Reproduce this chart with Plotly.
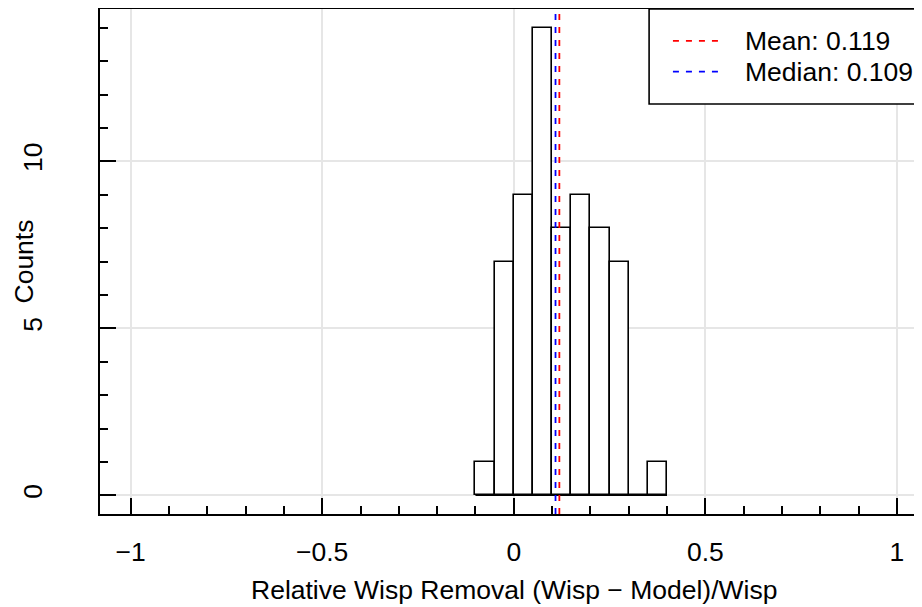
import plotly.graph_objects as go

# ---- data ----
bin_start = -0.1
bin_width = 0.05
counts = [1, 7, 9, 14, 8, 9, 8, 7, 0, 1]
mean_val = 0.119
median_val = 0.109
x_tickvals = [-1, -0.5, 0, 0.5, 1]
x_ticktext = ["\u22121", "\u22120.5", "0", "0.5", "1"]
y_tickvals = [0, 5, 10]
y_ticktext = ["0", "5", "10"]
x_title = "Relative Wisp Removal (Wisp \u2212 Model)/Wisp"
y_title = "Counts"

edges = [bin_start + i * bin_width for i in range(len(counts) + 1)]
centers = [(edges[i] + edges[i + 1]) / 2 for i in range(len(counts))]

FONT = "Liberation Sans, Arial, Helvetica, sans-serif"
FS = 26.5

fig = go.Figure()
fig.add_trace(go.Bar(
    x=centers, y=counts, width=bin_width,
    marker=dict(color="white", line=dict(color="black", width=1.6)),
    showlegend=False, hoverinfo="x+y",
))
# baseline of the histogram (covers zero-count bins)
fig.add_trace(go.Scatter(
    x=[edges[0], edges[-1]], y=[0, 0], mode="lines",
    line=dict(color="black", width=1.6), showlegend=False, hoverinfo="skip",
))

# mean / median vertical lines
fig.add_shape(type="line", xref="x", yref="y domain", x0=median_val, x1=median_val,
              y0=0, y1=1, line=dict(color="blue", width=1.8, dash="6px,7px"))
fig.add_shape(type="line", xref="x", yref="y domain", x0=mean_val, x1=mean_val,
              y0=0, y1=1, line=dict(color="red", width=1.8, dash="6px,7px"))

# legend box (manual, R-style)
fig.add_shape(type="rect", xref="paper", yref="paper", x0=0.668, x1=1.05, y0=0.812, y1=1.0,
              line=dict(color="black", width=1.6), fillcolor="white", layer="above")
leg_items = [("red", f"Mean: {mean_val:.3f}", 0.937), ("blue", f"Median: {median_val:.3f}", 0.876)]
for col, txt, yy in leg_items:
    fig.add_shape(type="line", xref="paper", yref="paper", x0=0.697, x1=0.754, y0=yy, y1=yy,
                  line=dict(color=col, width=1.8, dash="6px,7px"), layer="above")
    fig.add_annotation(xref="paper", yref="paper", x=0.782, y=yy, text=txt, showarrow=False,
                       xanchor="left", yanchor="middle", font=dict(family=FONT, size=FS, color="black"))

# axis titles (R-style placement)
fig.add_annotation(xref="x", yref="paper", x=0, y=0, yshift=-76, text=x_title, showarrow=False,
                   xanchor="center", yanchor="middle", font=dict(family=FONT, size=FS, color="black"))
fig.add_annotation(xref="paper", yref="paper", x=0, y=0.5, xshift=-77, text=y_title, showarrow=False,
                   textangle=-90, xanchor="center", yanchor="middle", borderpad=0,
                   font=dict(family=FONT, size=FS, color="black"))

fig.update_layout(
    width=914, height=599,
    margin=dict(l=92, r=0, t=1, b=93, autoexpand=False),
    paper_bgcolor="white", plot_bgcolor="white",
    font=dict(family=FONT, size=FS, color="black"),
    bargap=0,
)
fig.update_xaxes(
    range=[-1.08, 1.0656], tickvals=x_tickvals, ticktext=x_ticktext,
    ticks="inside", ticklen=16, tickwidth=1.6, tickcolor="black",
    minor=dict(dtick=0.1, ticks="inside", ticklen=8, tickwidth=1.6, tickcolor="black", showgrid=False),
    showgrid=True, gridcolor="#e6e6e6", gridwidth=1.8, zeroline=False,
    showline=True, linecolor="black", linewidth=2, mirror=True,
    tickfont=dict(family=FONT, size=FS), ticklabelstandoff=13,
)
fig.update_yaxes(
    range=[-0.56, 14.56], tickvals=y_tickvals, ticktext=y_ticktext, tickangle=-90,
    ticks="inside", ticklen=16, tickwidth=1.6, tickcolor="black",
    minor=dict(dtick=1, ticks="inside", ticklen=8, tickwidth=1.6, tickcolor="black", showgrid=False),
    showgrid=True, gridcolor="#e6e6e6", gridwidth=1.8, zeroline=False,
    showline=True, linecolor="black", linewidth=2, mirror=False,
    tickfont=dict(family=FONT, size=FS), ticklabelstandoff=45,
)

fig.write_html("out.html")
